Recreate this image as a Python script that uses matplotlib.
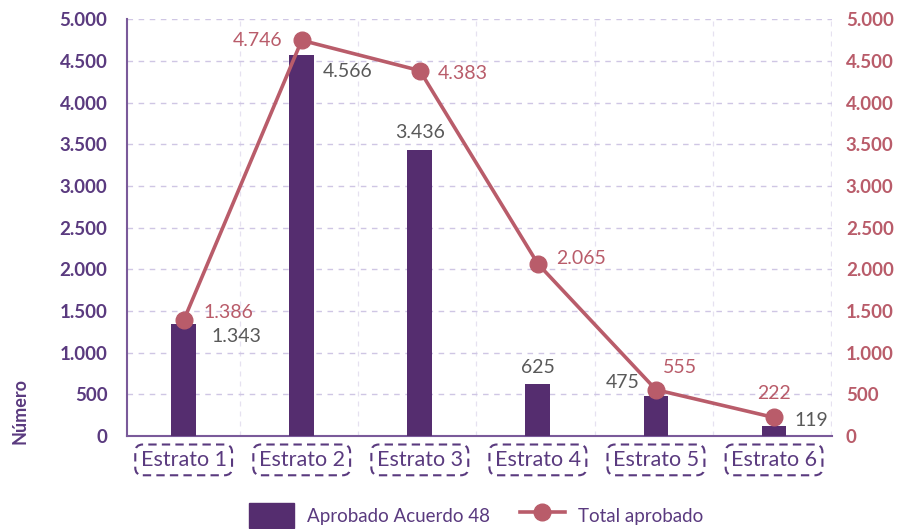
import matplotlib
matplotlib.use("Agg")
import matplotlib.pyplot as plt
from matplotlib.ticker import FuncFormatter, MultipleLocator, FixedLocator
from matplotlib.lines import Line2D
from matplotlib.patches import Patch

plt.rcParams["font.family"] = ["Lato", "DejaVu Sans"]

# ---------------------------------------------------------------------------
# Data
# ---------------------------------------------------------------------------
categories = ["Estrato 1", "Estrato 2", "Estrato 3", "Estrato 4", "Estrato 5", "Estrato 6"]
aprobado_a48 = [1343, 4566, 3436, 625, 475, 119]
total_aprobado = [1386, 4746, 4383, 2065, 555, 222]

PURPLE = "#552D6F"
PURPLE_TXT = "#5A3A7F"
ROSE = "#B95C6A"
GRAY = "#595959"
GRID = "#CFC6E4"


def miles(v, pos=None):
    return f"{int(v):,}".replace(",", ".")


fig = plt.figure(figsize=(8.98, 5.29), dpi=100)
ax = fig.add_axes([0.1414, 0.1758, 0.785, 0.788])
ax2 = ax.twinx()

x = list(range(len(categories)))

# bars + line
ax.bar(x, aprobado_a48, width=0.21, color=PURPLE, zorder=3)
ax2.plot(x, total_aprobado, "-o", color=ROSE, lw=2.6, markersize=12, zorder=4)

for a in (ax, ax2):
    a.set_ylim(0, 5000)
    a.set_xlim(-0.48, 5.49)
    a.yaxis.set_major_locator(MultipleLocator(500))
    a.yaxis.set_major_formatter(FuncFormatter(miles))

# grid
ax.grid(axis="y", linestyle=(0, (4, 4)), color=GRID, lw=1, zorder=0)
ax.xaxis.set_minor_locator(FixedLocator([i + 0.48 for i in range(6)]))
ax.grid(axis="x", which="minor", linestyle=(0, (4, 4)), color="#E6E1F0", lw=0.9, zorder=0)
ax.set_axisbelow(True)

# spines
for a in (ax, ax2):
    for s in a.spines.values():
        s.set_visible(False)
ax.spines["left"].set_visible(True)
ax.spines["bottom"].set_visible(True)
ax.spines["left"].set_color("#7A5A9A")
ax.spines["bottom"].set_color("#7A5A9A")
ax.spines["left"].set_linewidth(1.5)
ax.spines["bottom"].set_linewidth(1.5)

# ticks
ax.tick_params(axis="y", length=0, pad=14, labelsize=13.5, labelcolor=PURPLE_TXT)
ax2.tick_params(axis="y", length=0, pad=10, labelsize=13.5, labelcolor=ROSE)
for lab in ax.get_yticklabels() + ax2.get_yticklabels():
    lab.set_fontweight("bold")

ax.set_xticks(x)
ax.set_xticklabels(categories, fontsize=15.5, color=PURPLE_TXT)
ax.tick_params(axis="x", which="both", length=0, pad=10)
for lab in ax.get_xticklabels():
    lab.set_bbox(dict(boxstyle="round,pad=0.25,rounding_size=0.35", fc="white",
                      ec=PURPLE_TXT, lw=1.5, ls=(0, (4, 2.5))))

ax.set_ylabel("Número", fontsize=13, fontweight="bold", color=PURPLE_TXT)
ax.yaxis.set_label_coords(-0.14, 0.06)

# data labels: bars (gray)
bar_offsets = [(11, -9, "left"), (6, -12, "left"), (0, 12, "center"),
               (0, 12, "center"), (-3, 10, "right"), (6, 4, "left")]
for i, (v, (dx, dy, ha)) in enumerate(zip(aprobado_a48, bar_offsets)):
    ax.annotate(miles(v), (x[i] + (0.105 if ha == "left" else -0.105 if ha == "right" else 0), v),
                xytext=(dx, dy), textcoords="offset points", ha=ha, va="center",
                fontsize=14, color=GRAY, zorder=6)

# data labels: line (rose)
line_offsets = [(14, 6, "left"), (-14, 0, "right"), (13, -2, "left"),
                (13, 4, "left"), (5, 16, "left"), (0, 17, "center")]
for i, (v, (dx, dy, ha)) in enumerate(zip(total_aprobado, line_offsets)):
    ax2.annotate(miles(v), (x[i], v), xytext=(dx, dy), textcoords="offset points",
                 ha=ha, va="center", fontsize=14, color=ROSE, zorder=6)

# legend
handles = [Patch(facecolor=PURPLE, edgecolor=PURPLE),
           Line2D([0], [0], color=ROSE, lw=2.6, marker="o", markersize=12)]
fig.legend(handles, ["Aprobado Acuerdo 48", "Total aprobado"],
           loc="center", bbox_to_anchor=(0.53, 0.025), ncol=2, frameon=False,
           fontsize=13.5, labelcolor=PURPLE_TXT, handlelength=2.4, handleheight=1.7,
           columnspacing=1.6, handletextpad=0.7)

fig.savefig("out.png", dpi=100)
